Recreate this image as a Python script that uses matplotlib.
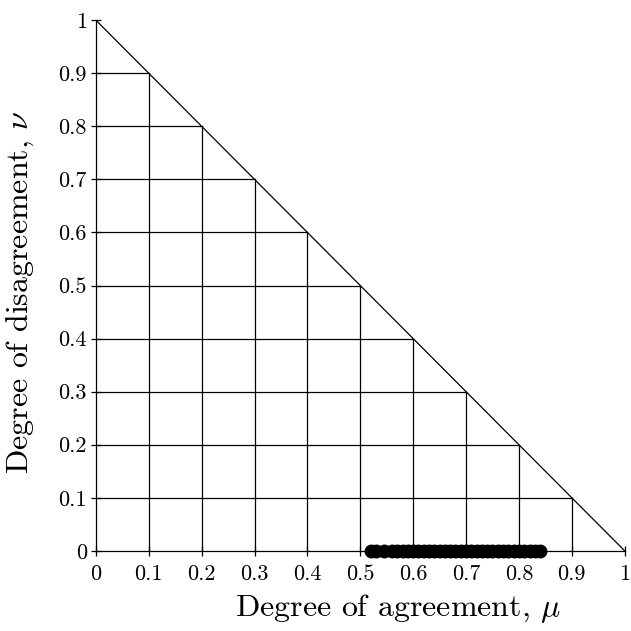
import numpy as np
import matplotlib
matplotlib.use('Agg')
import matplotlib.pyplot as plt

plt.rcParams['font.family'] = ['cmr10', 'DejaVu Serif']
plt.rcParams['mathtext.fontset'] = 'cm'
plt.rcParams['axes.formatter.use_mathtext'] = True

# grid / tick positions
TICKS = [0, 0.1, 0.2, 0.3, 0.4, 0.5, 0.6, 0.7, 0.8, 0.9, 1]
TICK_LABELS = ['0', '0.1', '0.2', '0.3', '0.4', '0.5', '0.6', '0.7', '0.8', '0.9', '1']

# observed points (agreement mu, disagreement nu)
MU = [0.52, 0.53, 0.545, 0.56, 0.57, 0.58, 0.59, 0.60, 0.61, 0.62, 0.63,
      0.64, 0.65, 0.66, 0.67, 0.68, 0.69, 0.70, 0.71, 0.72, 0.73, 0.74,
      0.75, 0.76, 0.77, 0.78, 0.79, 0.80, 0.81, 0.82, 0.83, 0.84]
NU = [0.0] * len(MU)

fig = plt.figure(figsize=(6.31, 6.31), dpi=100)
ax = fig.add_axes([0.152, 0.127, 0.838, 0.841])

# staircase grid inside the triangle
for t in TICKS[1:-1]:
    ax.plot([t, t], [0, 1 - t], color='black', linewidth=0.9)
    ax.plot([0, 1 - t], [t, t], color='black', linewidth=0.9)
ax.plot([0, 1], [1, 0], color='black', linewidth=0.9)

ax.plot(MU, NU, 'o', color='black', markersize=9, clip_on=False, zorder=5)

ax.set_xlim(0, 1)
ax.set_ylim(0, 1)
ax.set_xticks(TICKS)
ax.set_xticklabels(TICK_LABELS)
ax.set_yticks(TICKS)
ax.set_yticklabels(TICK_LABELS)
ax.tick_params(direction='inout', length=7, width=0.9, labelsize=16)
ax.tick_params(axis='x', pad=6)
ax.tick_params(axis='y', pad=3)

for s in ['top', 'right']:
    ax.spines[s].set_visible(False)
for s in ['left', 'bottom']:
    ax.spines[s].set_linewidth(0.9)

ax.set_xlabel(r'Degree of agreement, $\mu$', fontsize=23)
ax.set_ylabel(r'Degree of disagreement, $\nu$', fontsize=23)
ax.xaxis.set_label_coords(0.571, -0.078)
ax.yaxis.set_label_coords(-0.113, 0.488)

fig.savefig('out.png', dpi=100)
